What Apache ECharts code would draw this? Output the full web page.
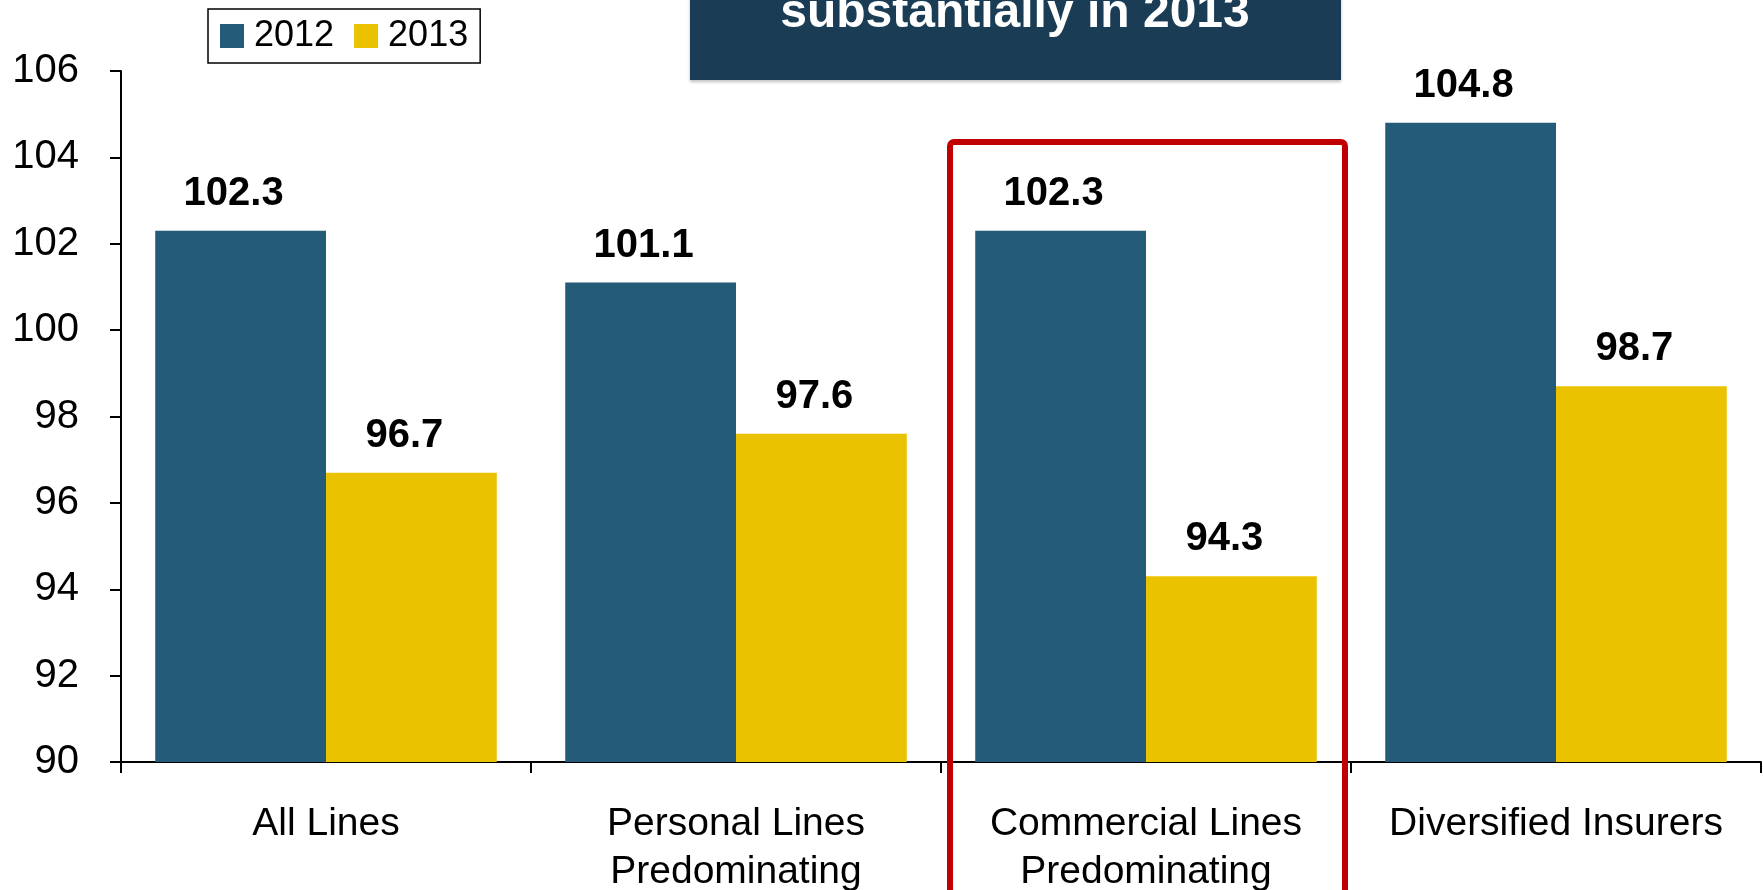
<!DOCTYPE html>
<html>
<head>
<meta charset="utf-8">
<title>Combined ratio</title>
<script src="https://cdn.jsdelivr.net/npm/echarts@6/dist/echarts.min.js"></script>
<style>
  html, body { margin: 0; padding: 0; background: #fff; }
  #main { width: 1763px; height: 890px; }
</style>
</head>
<body>
<div id="main"></div>
<script>
// categories + values
const categories = ['All Lines', 'Personal Lines\nPredominating', 'Commercial Lines\nPredominating', 'Diversified Insurers'];
const seriesNames = ['2012', '2013'];
const values2012 = [102.3, 101.1, 102.3, 104.8];
const values2013 = [96.7, 97.6, 94.3, 98.7];
const yTicks = [90, 92, 94, 96, 98, 100, 102, 104, 106];

const colors = ['#235b79', '#ebc200'];
const font = '"Liberation Sans", Arial, sans-serif';

let myChart = echarts.init(document.getElementById('main'), null, { renderer: 'canvas' });

const barLabel = {
  show: true,
  position: 'top',
  distance: 17,
  offset: [-7, 0],
  color: '#000',
  fontFamily: font,
  fontWeight: 'bold',
  fontSize: 40,
  formatter: (p) => p.value.toFixed(1)
};

const option = {
  backgroundColor: '#fff',
  animation: false,
  textStyle: { fontFamily: font },
  // labels run off the bottom edge in the original, so no auto fitting
  grid: { left: 121, right: 2, top: 71, bottom: 128, outerBoundsMode: 'none', containLabel: false },
  legend: {
    left: 208,
    top: 9,
    data: seriesNames,
    icon: 'rect',
    itemWidth: 24,
    itemHeight: 24,
    itemGap: 20,
    padding: [9, 12, 9, 12],
    borderColor: '#000',
    borderWidth: 1.5,
    textStyle: { fontSize: 36, color: '#000', fontFamily: font, padding: [0, 0, 0, 5] }
  },
  xAxis: {
    type: 'category',
    data: categories,
    axisLine: { lineStyle: { color: '#000', width: 2 } },
    axisTick: { show: true, interval: 0, length: 11, lineStyle: { color: '#000', width: 2 } },
    axisLabel: { interval: 0, color: '#000', fontSize: 39, lineHeight: 48, margin: 38, fontFamily: font }
  },
  yAxis: {
    type: 'value',
    min: yTicks[0],
    max: yTicks[yTicks.length - 1],
    interval: 2,
    axisLine: { show: true, lineStyle: { color: '#000', width: 2 } },
    axisTick: { show: true, length: 11, lineStyle: { color: '#000', width: 2 } },
    splitLine: { show: false },
    axisLabel: { color: '#000', fontSize: 40, margin: 42, fontFamily: font }
  },
  series: [
    {
      name: seriesNames[0],
      type: 'bar',
      data: values2012,
      barGap: '0%',
      barCategoryGap: '16.7%',
      itemStyle: { color: colors[0] },
      label: barLabel
    },
    {
      name: seriesNames[1],
      type: 'bar',
      data: values2013,
      barGap: '0%',
      barCategoryGap: '16.7%',
      itemStyle: { color: colors[1] },
      label: barLabel
    }
  ],
  graphic: [
    // title banner, cut off at the top of the picture
    {
      type: 'rect',
      shape: { x: 690, y: -20, width: 651, height: 100 },
      style: { fill: '#1b3c55', shadowColor: 'rgba(0,0,0,0.25)', shadowBlur: 3, shadowOffsetY: 2 },
      z: 10
    },
    {
      type: 'text',
      x: 1015,
      y: 38,
      style: {
        text: 'substantially in 2013',
        fill: '#fff',
        font: 'bold 48px ' + font,
        textAlign: 'center',
        textVerticalAlign: 'bottom'
      },
      z: 11
    },
    // red highlight box around commercial lines
    {
      type: 'rect',
      shape: { x: 950, y: 142, width: 395, height: 800, r: 4 },
      style: { fill: 'none', stroke: '#c00000', lineWidth: 6 },
      z: 20
    }
  ]
};

myChart.setOption(option);
window.onresize = () => { myChart && myChart.resize(); };
</script>
</body>
</html>
